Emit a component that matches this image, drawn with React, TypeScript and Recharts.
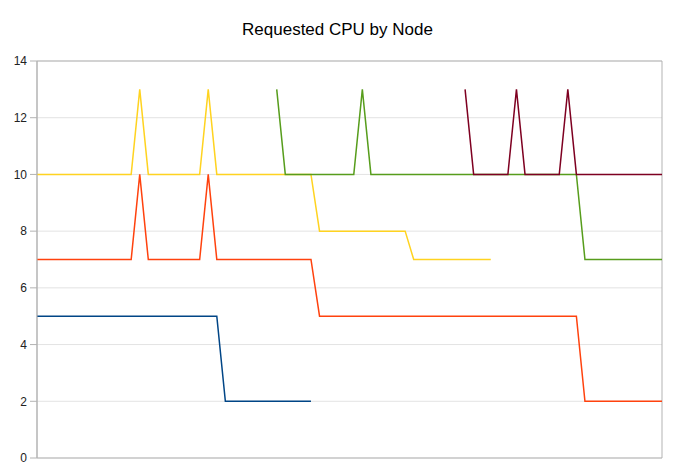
import React from "react";
import { LineChart, Line, XAxis, YAxis, CartesianGrid, ReferenceArea } from "recharts";

if (typeof document !== "undefined") {
  document.body.style.margin = "0";
}

const title = "Requested CPU by Node";

const categories = [
  "1","2","3","4","5","6","7","8","9","10","11","12","13","14","15","16","17","18","19","20",
  "21","22","23","24","25","26","27","28","29","30","31","32","33","34","35","36","37","38","39","40",
  "41","42","43","44","45","46","47","48","49","50","51","52","53","54","55","56","57","58","59","60",
  "61","62","63","64","65","66","67","68","69","70","71","72","73","74",
];

const yTicks = [0, 2, 4, 6, 8, 10, 12, 14];

const nodeA = [
  5,5,5,5,5,5,5,5,5,5,5,5,5,5,5,5,5,5,5,5,
  5,5,2,2,2,2,2,2,2,2,2,2,2,null,null,null,null,null,null,null,
  null,null,null,null,null,null,null,null,null,null,null,null,null,null,null,null,null,null,null,null,
  null,null,null,null,null,null,null,null,null,null,null,null,null,null,
];

const nodeB = [
  7,7,7,7,7,7,7,7,7,7,7,7,10,7,7,7,7,7,7,7,
  10,7,7,7,7,7,7,7,7,7,7,7,7,5,5,5,5,5,5,5,
  5,5,5,5,5,5,5,5,5,5,5,5,5,5,5,5,5,5,5,5,
  5,5,5,5,2,2,2,2,2,2,2,2,2,2,
];

const nodeC = [
  10,10,10,10,10,10,10,10,10,10,10,10,13,10,10,10,10,10,10,10,
  13,10,10,10,10,10,10,10,10,10,10,10,10,8,8,8,8,8,8,8,
  8,8,8,8,7,7,7,7,7,7,7,7,7,7,null,null,null,null,null,null,
  null,null,null,null,null,null,null,null,null,null,null,null,null,null,
];

const nodeD = [
  null,null,null,null,null,null,null,null,null,null,null,null,null,null,null,null,null,null,null,null,
  null,null,null,null,null,null,null,null,13,10,10,10,10,10,10,10,10,10,13,10,
  10,10,10,10,10,10,10,10,10,10,10,10,10,10,10,10,10,10,10,10,
  10,10,10,10,7,7,7,7,7,7,7,7,7,7,
];

const nodeE = [
  null,null,null,null,null,null,null,null,null,null,null,null,null,null,null,null,null,null,null,null,
  null,null,null,null,null,null,null,null,null,null,null,null,null,null,null,null,null,null,null,null,
  null,null,null,null,null,null,null,null,null,null,13,10,10,10,10,10,13,10,10,10,
  10,10,13,10,10,10,10,10,10,10,10,10,10,10,
];

const data = categories.map((c, i) => ({
  name: c,
  a: nodeA[i],
  b: nodeB[i],
  c: nodeC[i],
  d: nodeD[i],
  e: nodeE[i],
}));

const FONT = "'Liberation Sans', Arial, sans-serif";
const AXIS = "#b3b3b3";
const GRID = "#e3e3e3";

export default function App() {
  return (
    <div style={{ position: "relative", width: 675, height: 476, background: "#fff" }}>
      <LineChart
        width={675}
        height={476}
        data={data}
        margin={{ top: 61, right: 13, bottom: 18, left: 0 }}
        style={{ fontFamily: FONT }}
      >
        <CartesianGrid vertical={false} stroke={GRID} />
        <XAxis
          dataKey="name"
          tick={false}
          tickLine={false}
          axisLine={{ stroke: AXIS }}
          height={0}
        />
        <YAxis
          domain={[0, 14]}
          ticks={yTicks}
          width={37}
          tickSize={7}
          tickMargin={3}
          tickLine={{ stroke: AXIS }}
          axisLine={{ stroke: AXIS }}
          tick={{ fill: "#222", fontSize: 12, fontFamily: FONT }}
        />
        <ReferenceArea
          x1={categories[0]}
          x2={categories[categories.length - 1]}
          y1={0}
          y2={14}
          fill="none"
          stroke={AXIS}
          ifOverflow="visible"
        />
        <Line dataKey="a" stroke="#004586" strokeWidth={1.5} dot={false} isAnimationActive={false} />
        <Line dataKey="b" stroke="#ff420e" strokeWidth={1.5} dot={false} isAnimationActive={false} />
        <Line dataKey="c" stroke="#ffd320" strokeWidth={1.5} dot={false} isAnimationActive={false} />
        <Line dataKey="d" stroke="#579d1c" strokeWidth={1.5} dot={false} isAnimationActive={false} />
        <Line dataKey="e" stroke="#7e0021" strokeWidth={1.5} dot={false} isAnimationActive={false} />
      </LineChart>
      <svg
        width={675}
        height={476}
        style={{ position: "absolute", left: 0, top: 0, pointerEvents: "none" }}
      >
        <text x={337.5} y={35} textAnchor="middle" fontSize={17} fontFamily={FONT} fill="#000">
          {title}
        </text>
      </svg>
    </div>
  );
}
